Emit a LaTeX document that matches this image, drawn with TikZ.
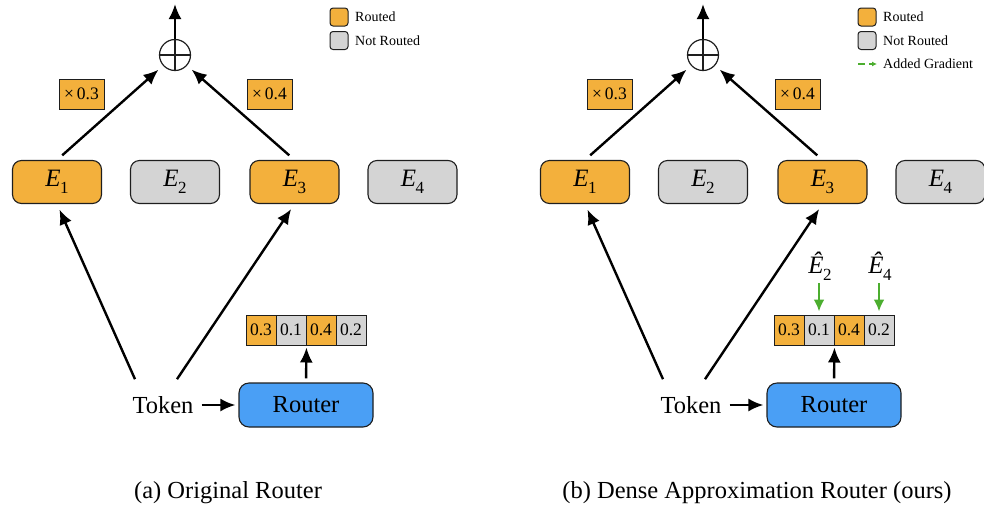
\documentclass[tikz,border=0pt]{standalone}
\usepackage{fontspec}
\setmainfont{Liberation Serif}
\usetikzlibrary{arrows.meta}
\definecolor{routed}{RGB}{243,176,60}
\definecolor{notrouted}{RGB}{212,212,212}
\definecolor{routerblue}{RGB}{74,159,245}
\definecolor{gradgreen}{RGB}{76,174,47}
\definecolor{edge}{RGB}{30,30,30}
\newcommand{\Ex}[1]{\textit{E}\kern-0.5pt\raisebox{-0.28em}{\fontsize{17}{17}\selectfont #1}}
\newcommand{\Eh}[1]{\textit{Ê}\kern-0.5pt\raisebox{-0.28em}{\fontsize{17}{17}\selectfont #1}}
\tikzset{
  expert/.style={draw=edge, line width=1.1pt, rounded corners=9pt, minimum width=89pt, minimum height=43pt, inner sep=0pt, font=\fontsize{25}{25}\selectfont},
  multbox/.style={draw=edge, line width=1pt, fill=routed, minimum width=45pt, minimum height=30pt, inner sep=0pt, font=\fontsize{17.5}{17.5}\selectfont},
  cell/.style={draw=edge, line width=1pt, minimum width=30pt, minimum height=30pt, inner sep=0pt, font=\fontsize{17.5}{17.5}\selectfont},
  legbox/.style={draw=edge, line width=1pt, rounded corners=3pt, minimum width=18pt, minimum height=18pt, inner sep=0pt},
  legtext/.style={anchor=west, inner sep=0pt, font=\fontsize{14}{14}\selectfont},
  plusnode/.style={draw=edge, circle, line width=1.2pt, minimum size=31pt, inner sep=0pt,
    path picture={\draw[line width=1.2pt, edge] (path picture bounding box.north) -- (path picture bounding box.south) (path picture bounding box.west) -- (path picture bounding box.east);}},
  arr/.style={line width=2.4pt, -{Latex[length=15pt,width=13pt]}},
  garr/.style={line width=2.4pt, gradgreen, -{Latex[length=12pt,width=11pt]}},
  bigtext/.style={font=\fontsize{24.5}{24.5}\selectfont},
  routerbox/.style={draw=edge, line width=1.1pt, fill=routerblue, rounded corners=10pt, minimum width=134pt, minimum height=44pt, inner sep=0pt, font=\fontsize{24.5}{24.5}\selectfont},
  captext/.style={font=\fontsize{24.5}{24.5}\selectfont},
}
\newcommand{\panelbody}{%
  \node[expert, fill=routed] (E1) at (57,182) {\Ex{1}};
  \node[expert, fill=notrouted] (E2) at (175,182) {\Ex{2}};
  \node[expert, fill=routed] (E3) at (294.5,182) {\Ex{3}};
  \node[expert, fill=notrouted] (E4) at (412.5,182) {\Ex{4}};
  \node[plusnode] (plus) at (175,55) {};
  \coordinate (out) at (175,4);
  \node[multbox] (m1) at (81.5,94) {×\,0.3};
  \node[multbox] (m2) at (269.5,94) {×\,0.4};
  \draw[arr, shorten <=7pt, shorten >=6pt] (E1.north) -- (plus);
  \draw[arr, shorten <=7pt, shorten >=6pt] (E3.north) -- (plus);
  \draw[arr, shorten <=0pt] (plus.north) -- (out);
  \node[bigtext, inner ysep=17pt, inner xsep=0pt] (tok) at (163,405) {Token};
  \node[routerbox] (router) at (306,405) {Router};
  \node[cell, fill=routed] (v1) at (261,330) {0.3};
  \node[cell, fill=notrouted] (v2) at (291,330) {0.1};
  \node[cell, fill=routed] (v3) at (321,330) {0.4};
  \node[cell, fill=notrouted] (v4) at (351,330) {0.2};
  \draw[arr, shorten >=6pt] ([xshift=-28pt]tok.north) -- (E1.south);
  \draw[arr, shorten >=6pt] ([xshift=14pt]tok.north) -- (E3.south);
  \draw[arr, shorten <=8pt, shorten >=3pt] (tok.east) -- (router.west);
  \draw[arr, shorten <=4pt, shorten >=2pt] (router.north) -- (v2.south east);
  \node[legbox, fill=routed] (l1) at (339,17) {};
  \node[legtext] (l1t) at (355,17) {Routed};
  \node[legbox, fill=notrouted] (l2) at (339,40.5) {};
  \node[legtext] (l2t) at (355,40.5) {Not Routed};
}
\begin{document}
\begin{tikzpicture}[x=1pt, y=-1pt]
\useasboundingbox (0,0) rectangle (984,512);
\begin{scope}[name prefix=a-]
  \panelbody
  \node[captext] (capa) at (228,493) {(a) Original Router};
\end{scope}
\begin{scope}[xshift=528pt, name prefix=b-]
  \panelbody
  \node[inner sep=0pt, font=\fontsize{25}{25}\selectfont] (h2) at (292,266) {\Eh{2}};
  \node[inner sep=0pt, font=\fontsize{25}{25}\selectfont] (h4) at (352,266) {\Eh{4}};
  \draw[garr, shorten <=3pt, shorten >=3pt] (h2.south -| v2.north) -- (v2.north);
  \draw[garr, shorten <=3pt, shorten >=3pt] (h4.south -| v4.north) -- (v4.north);
  \coordinate (g1) at (330,64);
  \coordinate (g2) at (349,64);
  \draw[gradgreen, line width=1.2pt, dash pattern=on 7pt off 4pt, -{Latex[length=5pt,width=5pt]}] (g1) -- (g2);
  \node[legtext] (l3t) at (355,64) {Added Gradient};
  \node[captext] (capb) at (229,493) {(b) Dense Approximation Router (ours)};
\end{scope}
\end{tikzpicture}
\end{document}
